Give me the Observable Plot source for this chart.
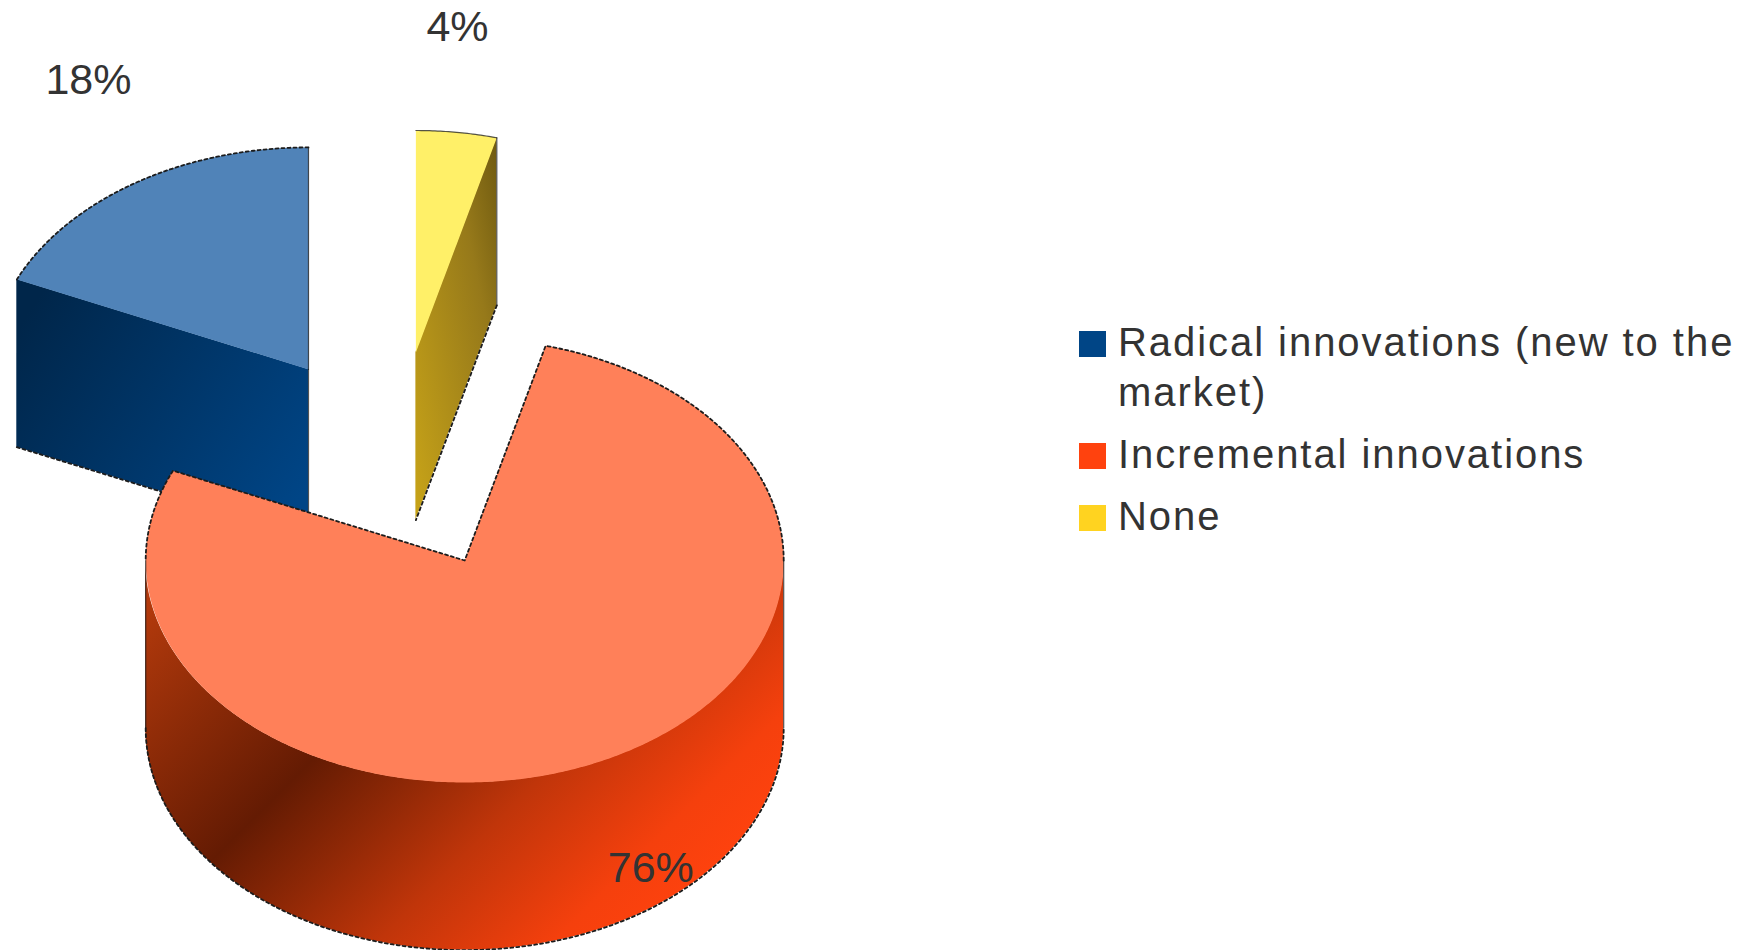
<!DOCTYPE html>
<html>
<head>
<meta charset="utf-8">
<script src="https://cdn.jsdelivr.net/npm/d3@7"></script>
<script src="https://cdn.jsdelivr.net/npm/@observablehq/plot@0.6"></script>
<style>
  html, body { margin: 0; background: #fff; }
  #stage { position: relative; width: 1742px; height: 950px; overflow: hidden; font-family: "Liberation Sans", sans-serif; color: #333; }
  #stage svg { display: block; }
  #legend { position: absolute; left: 1079px; top: 317px; width: 660px; font-size: 40px; line-height: 50px; letter-spacing: 1.95px; }
  .row { display: flex; margin-bottom: 12px; }
  .swatch { flex: none; width: 27px; height: 26px; margin: 14px 12px 0 0; }
</style>
</head>
<body>
<div id="stage">
  <div id="chart"></div>
  <div id="legend"></div>
</div>
<script>
// Innovation types and the share of respondents reporting each one
const categories = ["Radical innovations (new to the market)", "Incremental innovations", "None"];
const shares = [18, 76, 4];

// Palette: legend key, lit top face
const keyColors = ["#004586", "#ff420e", "#ffd320"];
const topColors = ["#5083b8", "#ff8059", "#fff068"];
const wallFills = ["url(#wall-radical)", "url(#wall-incremental)", "url(#wall-none)"];

// Pie geometry in radius units; one unit is radiusX by radiusY pixels once tilted
const W = 1742, H = 950;
const radiusX = 319, radiusY = 222;
const originX = 395, originY = 461;
const explodeX = 0.5, explodeY = 0.495, depth = 0.755, labelRadius = 1.96;
const labelNudge = [[34, -17], [-16, 15], [-18, -3]];
const deg = Math.PI / 180;

// Slices run counter-clockwise from twelve o'clock
const arcs = d3.pie().sort(null).startAngle(0).endAngle(-2 * Math.PI)(shares);
const slices = arcs.map((a, i) => {
  const mid = (a.startAngle + a.endAngle) / 2;
  return {
    i, value: a.value, start: a.startAngle, end: a.endAngle, mid,
    cx: explodeX * Math.sin(mid), cy: -explodeY * Math.cos(mid)
  };
});

const rim = (s, t, drop = 0) => ({x: s.cx + Math.sin(t), y: s.cy - Math.cos(t) + drop});
const hub = (s, drop = 0) => ({x: s.cx, y: s.cy + drop});
const sweep = (a, b) => {
  const n = Math.max(2, Math.ceil(Math.abs(b - a) / (0.5 * deg)));
  return d3.range(n + 1).map(k => a + (b - a) * k / n);
};

const topFace = s => [hub(s), ...sweep(s.start, s.end).map(t => rim(s, t))];
const wallRow = p => ({x: p.x, y: p.y, y2: p.y + depth});

// Visible side of a slice: front part of the rim, plus whichever cut face turns toward the viewer
function walls(s) {
  const out = [];
  const front = sweep(s.start, s.end).filter(t => Math.cos(t) <= 1e-6);
  if (front.length > 1) out.push(front.map(t => wallRow(rim(s, t))));
  if (Math.sin(s.start) > 1e-6) out.push([rim(s, s.start), hub(s)].map(wallRow));
  if (-Math.sin(s.end) > 1e-6) out.push([rim(s, s.end), hub(s)].map(wallRow));
  return out;
}

const gradient = (id, attrs, stops) => `<linearGradient id="${id}" ${attrs}>` +
  stops.map(([o, c]) => `<stop offset="${o}" stop-color="${c}"/>`).join("") + `</linearGradient>`;

const defs = () => {
  const g = d3.create("svg:defs");
  g.html(
    gradient("wall-radical", `x1="0" y1="0.2" x2="1" y2="0.8"`, [[0, "#00264a"], [1, "#004586"]]) +
    gradient("wall-incremental", `gradientUnits="userSpaceOnUse" x1="187" y1="560" x2="680" y2="1053"`,
      [[0, "#b43a0c"], [0.33, "#641b03"], [0.45, "#8f2806"], [0.58, "#c0350a"], [0.76, "#f5400d"], [0.86, "#ff420e"], [1, "#ff420e"]]) +
    gradient("wall-none", `x1="0" y1="1" x2="1" y2="0"`, [[0, "#c8a418"], [0.7, "#96791a"], [1, "#6f5a10"]])
  );
  return g.node();
};

const dashed = {x: "x", y: "y", stroke: "#1c1c1c", strokeWidth: 1.8, strokeDasharray: "3 3"};
const solid = {x: "x", y: "y", stroke: "#1c1c1c", strokeWidth: 1.2, strokeOpacity: 0.75};

const [radical, incremental, none] = slices;
const dropped = pts => pts.map(p => ({x: p.x, y: p.y + depth}));

const radicalEdges = [
  Plot.line(sweep(radical.start, radical.end).map(t => rim(radical, t)), dashed),
  Plot.line(dropped([rim(radical, radical.end), hub(radical)]), dashed),
  Plot.line([hub(radical), hub(radical, depth)], solid),
  Plot.line([rim(radical, 0), hub(radical)], solid)
];

const noneEdges = [
  Plot.line(sweep(none.start, none.end).map(t => rim(none, t)), solid),
  Plot.line(dropped([rim(none, none.start), hub(none)]), dashed),
  Plot.line([rim(none, none.start), rim(none, none.start, depth)], solid)
];

const incrementalEdges = [
  Plot.line(dropped(sweep(-90 * deg, -270 * deg).map(t => rim(incremental, t))), dashed),
  Plot.line([rim(incremental, -90 * deg), rim(incremental, -90 * deg, depth)], solid),
  Plot.line([rim(incremental, -270 * deg), rim(incremental, -270 * deg, depth)], solid),
  Plot.line([
    ...sweep(-270 * deg, incremental.end).map(t => rim(incremental, t)),
    hub(incremental),
    ...sweep(incremental.start, -90 * deg).map(t => rim(incremental, t))
  ], dashed)
];

const solidFor = s => [
  ...walls(s).map(rows => Plot.area(rows, {x1: "x", y1: "y", y2: "y2", fill: wallFills[s.i]})),
  Plot.line(topFace(s), {x: "x", y: "y", fill: topColors[s.i], stroke: "none"})
];

const labels = slices.map(s => Plot.text([s], {
  x: d => labelRadius * Math.sin(d.mid),
  y: d => -labelRadius * Math.cos(d.mid),
  text: d => `${d.value}%`,
  dx: labelNudge[s.i][0],
  dy: labelNudge[s.i][1],
  fontSize: 43,
  fontFamily: "Liberation Sans",
  fill: "#333"
}));

const chart = Plot.plot({
  width: W,
  height: H,
  margin: 0,
  style: {background: "#fff", overflow: "hidden"},
  x: {domain: [-originX / radiusX, (W - originX) / radiusX], range: [0, W], axis: null},
  y: {domain: [-originY / radiusY, (H - originY) / radiusY], range: [0, H], axis: null},
  marks: [
    defs,
    ...solidFor(radical),
    ...radicalEdges,
    ...solidFor(none),
    ...noneEdges,
    ...solidFor(incremental),
    ...incrementalEdges,
    ...labels
  ]
});
document.getElementById("chart").append(chart);

// Legend keyed to the same categories and colours
const legend = d3.select("#legend");
categories.forEach((name, i) => {
  const row = legend.append("div").attr("class", "row");
  row.append("div").attr("class", "swatch").style("background", keyColors[i]);
  row.append("div").text(name);
});
</script>
</body>
</html>
